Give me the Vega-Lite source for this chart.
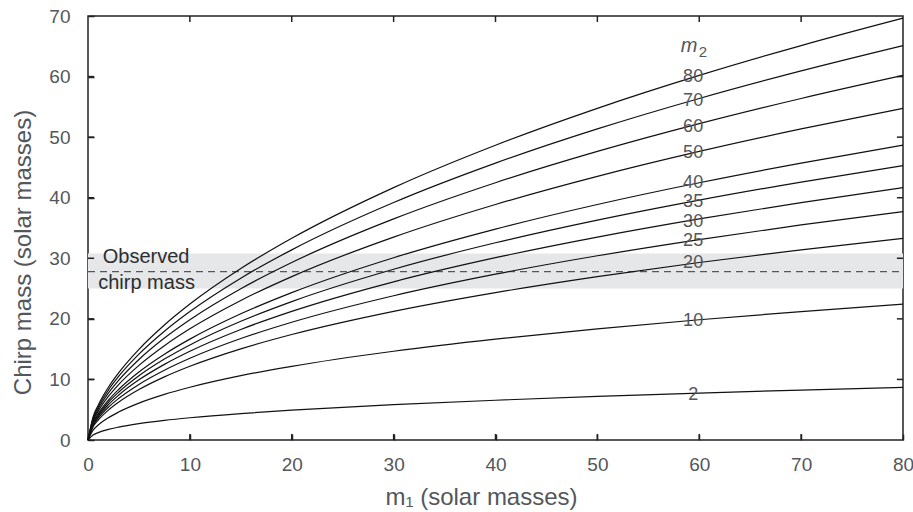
{
  "$schema": "https://vega.github.io/schema/vega-lite/v6.json",
  "width": 815,
  "height": 424,
  "autosize": {"type": "none"},
  "padding": {"left": 88, "top": 16, "right": 10, "bottom": 72},
  "config": {
    "view": {"stroke": "#222", "strokeWidth": 1.5},
    "font": "Liberation Sans",
    "axis": {"domain": false, "grid": false, "ticks": true, "tickSize": 6, "tickColor": "#222222", "tickWidth": 1.5, "labelFlush": false, "labelColor": "#53575c", "titleColor": "#53575c", "labelFont": "Liberation Sans", "titleFont": "Liberation Sans", "labelFontSize": 19, "titleFontSize": 24, "titleFontWeight": "normal"}
  },
  "datasets": {
    "curves": [
      {"m2": 2, "m1": 0, "mc": 0}, {"m2": 2, "m1": 0.5, "mc": 0.8326}, {"m2": 2, "m1": 1, "mc": 1.2167}, {"m2": 2, "m1": 2, "mc": 1.7411}, {"m2": 2, "m1": 3, "mc": 2.1237}, {"m2": 2, "m1": 5, "mc": 2.6976}, {"m2": 2, "m1": 7.5, "mc": 3.2368}, {"m2": 2, "m1": 10, "mc": 3.6710}, {"m2": 2, "m1": 15, "mc": 4.3670}, {"m2": 2, "m1": 20, "mc": 4.9289}, {"m2": 2, "m1": 30, "mc": 5.8326}, {"m2": 2, "m1": 40, "mc": 6.5645}, {"m2": 2, "m1": 50, "mc": 7.1912}, {"m2": 2, "m1": 60, "mc": 7.7452}, {"m2": 2, "m1": 70, "mc": 8.2453}, {"m2": 2, "m1": 80, "mc": 8.7038},
      {"m2": 10, "m1": 0, "mc": 0}, {"m2": 10, "m1": 0.5, "mc": 1.6411}, {"m2": 10, "m1": 1, "mc": 2.4645}, {"m2": 10, "m1": 2, "mc": 3.6710}, {"m2": 10, "m1": 3, "mc": 4.6077}, {"m2": 10, "m1": 5, "mc": 6.0836}, {"m2": 10, "m1": 7.5, "mc": 7.5237}, {"m2": 10, "m1": 10, "mc": 8.7055}, {"m2": 10, "m1": 15, "mc": 10.619}, {"m2": 10, "m1": 20, "mc": 12.167}, {"m2": 10, "m1": 30, "mc": 14.651}, {"m2": 10, "m1": 40, "mc": 16.651}, {"m2": 10, "m1": 50, "mc": 18.355}, {"m2": 10, "m1": 60, "mc": 19.855}, {"m2": 10, "m1": 70, "mc": 21.205}, {"m2": 10, "m1": 80, "mc": 22.439},
      {"m2": 20, "m1": 0, "mc": 0}, {"m2": 20, "m1": 0.5, "mc": 2.1760}, {"m2": 20, "m1": 1, "mc": 3.2823}, {"m2": 20, "m1": 2, "mc": 4.9289}, {"m2": 20, "m1": 3, "mc": 6.2308}, {"m2": 20, "m1": 5, "mc": 8.3256}, {"m2": 20, "m1": 7.5, "mc": 10.418}, {"m2": 20, "m1": 10, "mc": 12.167}, {"m2": 20, "m1": 15, "mc": 15.047}, {"m2": 20, "m1": 20, "mc": 17.411}, {"m2": 20, "m1": 30, "mc": 21.237}, {"m2": 20, "m1": 40, "mc": 24.334}, {"m2": 20, "m1": 50, "mc": 26.976}, {"m2": 20, "m1": 60, "mc": 29.302}, {"m2": 20, "m1": 70, "mc": 31.393}, {"m2": 20, "m1": 80, "mc": 33.302},
      {"m2": 25, "m1": 0, "mc": 0}, {"m2": 25, "m1": 0.5, "mc": 2.3814}, {"m2": 25, "m1": 1, "mc": 3.5956}, {"m2": 25, "m1": 2, "mc": 5.4089}, {"m2": 25, "m1": 3, "mc": 6.8487}, {"m2": 25, "m1": 5, "mc": 9.1775}, {"m2": 25, "m1": 7.5, "mc": 11.519}, {"m2": 25, "m1": 10, "mc": 13.488}, {"m2": 25, "m1": 15, "mc": 16.750}, {"m2": 25, "m1": 20, "mc": 19.442}, {"m2": 25, "m1": 30, "mc": 23.821}, {"m2": 25, "m1": 40, "mc": 27.379}, {"m2": 25, "m1": 50, "mc": 30.418}, {"m2": 25, "m1": 60, "mc": 33.096}, {"m2": 25, "m1": 70, "mc": 35.504}, {"m2": 25, "m1": 80, "mc": 37.703},
      {"m2": 30, "m1": 0, "mc": 0}, {"m2": 30, "m1": 0.5, "mc": 2.5633}, {"m2": 30, "m1": 1, "mc": 3.8726}, {"m2": 30, "m1": 2, "mc": 5.8326}, {"m2": 30, "m1": 3, "mc": 7.3934}, {"m2": 30, "m1": 5, "mc": 9.9275}, {"m2": 30, "m1": 7.5, "mc": 12.488}, {"m2": 30, "m1": 10, "mc": 14.651}, {"m2": 30, "m1": 15, "mc": 18.251}, {"m2": 30, "m1": 20, "mc": 21.237}, {"m2": 30, "m1": 30, "mc": 26.117}, {"m2": 30, "m1": 40, "mc": 30.095}, {"m2": 30, "m1": 50, "mc": 33.499}, {"m2": 30, "m1": 60, "mc": 36.502}, {"m2": 30, "m1": 70, "mc": 39.204}, {"m2": 30, "m1": 80, "mc": 41.672},
      {"m2": 35, "m1": 0, "mc": 0}, {"m2": 35, "m1": 0.5, "mc": 2.7276}, {"m2": 35, "m1": 1, "mc": 4.1227}, {"m2": 35, "m1": 2, "mc": 6.2147}, {"m2": 35, "m1": 3, "mc": 7.8842}, {"m2": 35, "m1": 5, "mc": 10.603}, {"m2": 35, "m1": 7.5, "mc": 13.360}, {"m2": 35, "m1": 10, "mc": 15.696}, {"m2": 35, "m1": 15, "mc": 19.602}, {"m2": 35, "m1": 20, "mc": 22.855}, {"m2": 35, "m1": 30, "mc": 28.192}, {"m2": 35, "m1": 40, "mc": 32.559}, {"m2": 35, "m1": 50, "mc": 36.303}, {"m2": 35, "m1": 60, "mc": 39.608}, {"m2": 35, "m1": 70, "mc": 42.586}, {"m2": 35, "m1": 80, "mc": 45.306},
      {"m2": 40, "m1": 0, "mc": 0}, {"m2": 40, "m1": 0.5, "mc": 2.8782}, {"m2": 40, "m1": 1, "mc": 4.3519}, {"m2": 40, "m1": 2, "mc": 6.5645}, {"m2": 40, "m1": 3, "mc": 8.3333}, {"m2": 40, "m1": 5, "mc": 11.220}, {"m2": 40, "m1": 7.5, "mc": 14.156}, {"m2": 40, "m1": 10, "mc": 16.651}, {"m2": 40, "m1": 15, "mc": 20.836}, {"m2": 40, "m1": 20, "mc": 24.334}, {"m2": 40, "m1": 30, "mc": 30.095}, {"m2": 40, "m1": 40, "mc": 34.822}, {"m2": 40, "m1": 50, "mc": 38.884}, {"m2": 40, "m1": 60, "mc": 42.474}, {"m2": 40, "m1": 70, "mc": 45.711}, {"m2": 40, "m1": 80, "mc": 48.669},
      {"m2": 50, "m1": 0, "mc": 0}, {"m2": 50, "m1": 0.5, "mc": 3.1485}, {"m2": 50, "m1": 1, "mc": 4.7629}, {"m2": 50, "m1": 2, "mc": 7.1912}, {"m2": 50, "m1": 3, "mc": 9.1369}, {"m2": 50, "m1": 5, "mc": 12.322}, {"m2": 50, "m1": 7.5, "mc": 15.577}, {"m2": 50, "m1": 10, "mc": 18.355}, {"m2": 50, "m1": 15, "mc": 23.039}, {"m2": 50, "m1": 20, "mc": 26.976}, {"m2": 50, "m1": 30, "mc": 33.499}, {"m2": 50, "m1": 40, "mc": 38.884}, {"m2": 50, "m1": 50, "mc": 43.527}, {"m2": 50, "m1": 60, "mc": 47.643}, {"m2": 50, "m1": 70, "mc": 51.358}, {"m2": 50, "m1": 80, "mc": 54.758},
      {"m2": 60, "m1": 0, "mc": 0}, {"m2": 60, "m1": 0.5, "mc": 3.3878}, {"m2": 60, "m1": 1, "mc": 5.1266}, {"m2": 60, "m1": 2, "mc": 7.7452}, {"m2": 60, "m1": 3, "mc": 9.8468}, {"m2": 60, "m1": 5, "mc": 13.295}, {"m2": 60, "m1": 7.5, "mc": 16.830}, {"m2": 60, "m1": 10, "mc": 19.855}, {"m2": 60, "m1": 15, "mc": 24.977}, {"m2": 60, "m1": 20, "mc": 29.302}, {"m2": 60, "m1": 30, "mc": 36.502}, {"m2": 60, "m1": 40, "mc": 42.474}, {"m2": 60, "m1": 50, "mc": 47.643}, {"m2": 60, "m1": 60, "mc": 52.233}, {"m2": 60, "m1": 70, "mc": 56.385}, {"m2": 60, "m1": 80, "mc": 60.189},
      {"m2": 70, "m1": 0, "mc": 0}, {"m2": 70, "m1": 0.5, "mc": 3.6042}, {"m2": 70, "m1": 1, "mc": 5.4552}, {"m2": 70, "m1": 2, "mc": 8.2453}, {"m2": 70, "m1": 3, "mc": 10.487}, {"m2": 70, "m1": 5, "mc": 14.172}, {"m2": 70, "m1": 7.5, "mc": 17.957}, {"m2": 70, "m1": 10, "mc": 21.205}, {"m2": 70, "m1": 15, "mc": 26.720}, {"m2": 70, "m1": 20, "mc": 31.393}, {"m2": 70, "m1": 30, "mc": 39.204}, {"m2": 70, "m1": 40, "mc": 45.711}, {"m2": 70, "m1": 50, "mc": 51.358}, {"m2": 70, "m1": 60, "mc": 56.385}, {"m2": 70, "m1": 70, "mc": 60.938}, {"m2": 70, "m1": 80, "mc": 65.116},
      {"m2": 80, "m1": 0, "mc": 0}, {"m2": 80, "m1": 0.5, "mc": 3.8026}, {"m2": 80, "m1": 1, "mc": 5.7565}, {"m2": 80, "m1": 2, "mc": 8.7038}, {"m2": 80, "m1": 3, "mc": 11.074}, {"m2": 80, "m1": 5, "mc": 14.974}, {"m2": 80, "m1": 7.5, "mc": 18.989}, {"m2": 80, "m1": 10, "mc": 22.439}, {"m2": 80, "m1": 15, "mc": 28.312}, {"m2": 80, "m1": 20, "mc": 33.302}, {"m2": 80, "m1": 30, "mc": 41.672}, {"m2": 80, "m1": 40, "mc": 48.669}, {"m2": 80, "m1": 50, "mc": 54.758}, {"m2": 80, "m1": 60, "mc": 60.189}, {"m2": 80, "m1": 70, "mc": 65.116}, {"m2": 80, "m1": 80, "mc": 69.644}
    ],
    "curveLabels": [
      {"label": "80", "x": 59.4, "y": 60.0}, {"label": "70", "x": 59.4, "y": 56.0}, {"label": "60", "x": 59.4, "y": 51.7},
      {"label": "50", "x": 59.4, "y": 47.3}, {"label": "40", "x": 59.4, "y": 42.5}, {"label": "35", "x": 59.4, "y": 39.35},
      {"label": "30", "x": 59.4, "y": 36.0}, {"label": "25", "x": 59.4, "y": 32.9}, {"label": "20", "x": 59.4, "y": 29.3},
      {"label": "10", "x": 59.4, "y": 19.7}, {"label": "2", "x": 59.4, "y": 7.4}
    ],
    "band": [{"lo": 25.0, "hi": 30.8, "obs": 27.8, "x0": 0, "x1": 80}],
    "notes": [{"label": "Observed", "x": 1.45, "y": 30.2}, {"label": "chirp mass", "x": 1.0, "y": 25.9}],
    "xticks": [{"v": 10}, {"v": 20}, {"v": 30}, {"v": 40}, {"v": 50}, {"v": 60}, {"v": 70}],
    "yticks": [{"v": 10}, {"v": 20}, {"v": 30}, {"v": 40}, {"v": 50}, {"v": 60}]
  },
  "layer": [
    {
      "data": {"name": "band"},
      "mark": {"type": "rect", "color": "#e6e7e8"},
      "encoding": {
        "x": {"field": "x0", "type": "quantitative", "scale": {"domain": [0, 80], "nice": false}, "axis": null},
        "x2": {"field": "x1"},
        "y": {"field": "lo", "type": "quantitative", "scale": {"domain": [0, 70], "nice": false}, "axis": null},
        "y2": {"field": "hi"}
      }
    },
    {
      "data": {"name": "band"},
      "mark": {"type": "rule", "color": "#55595e", "strokeWidth": 1.3, "strokeDash": [7, 5]},
      "encoding": {
        "x": {"field": "x0", "type": "quantitative", "axis": null},
        "x2": {"field": "x1"},
        "y": {"field": "obs", "type": "quantitative", "axis": null}
      }
    },
    {
      "data": {"name": "xticks"},
      "mark": {"type": "rule", "color": "#222", "strokeWidth": 1.5},
      "encoding": {
        "x": {"field": "v", "type": "quantitative", "axis": null},
        "y": {"datum": 0, "type": "quantitative", "axis": null},
        "y2": {"datum": 1}
      }
    },
    {
      "data": {"name": "xticks"},
      "mark": {"type": "rule", "color": "#222", "strokeWidth": 1.5},
      "encoding": {
        "x": {"field": "v", "type": "quantitative", "axis": null},
        "y": {"datum": 70, "type": "quantitative", "axis": null},
        "y2": {"datum": 69}
      }
    },
    {
      "data": {"name": "yticks"},
      "mark": {"type": "rule", "color": "#222", "strokeWidth": 1.5},
      "encoding": {
        "y": {"field": "v", "type": "quantitative", "axis": null},
        "x": {"datum": 0, "type": "quantitative", "axis": null},
        "x2": {"datum": 0.6}
      }
    },
    {
      "data": {"name": "yticks"},
      "mark": {"type": "rule", "color": "#222", "strokeWidth": 1.5},
      "encoding": {
        "y": {"field": "v", "type": "quantitative", "axis": null},
        "x": {"datum": 80, "type": "quantitative", "axis": null},
        "x2": {"datum": 79.4}
      }
    },
    {
      "data": {"name": "curves"},
      "mark": {"type": "line", "color": "#111", "strokeWidth": 1.2, "interpolate": "monotone"},
      "encoding": {
        "x": {"field": "m1", "type": "quantitative", "axis": {"orient": "bottom", "values": [0, 10, 20, 30, 40, 50, 60, 70, 80], "offset": -6, "labelPadding": 15, "title": "m₁ (solar masses)", "titleX": 393, "titleY": 63, "titleBaseline": "middle"}},
        "y": {"field": "mc", "type": "quantitative", "axis": {"orient": "left", "values": [0, 10, 20, 30, 40, 50, 60, 70], "offset": -6, "labelPadding": 18, "title": "Chirp mass (solar masses)", "titleX": -71, "titleY": 236, "titleBaseline": "middle"}},
        "detail": {"field": "m2", "type": "nominal"},
        "order": {"field": "m1", "type": "quantitative"}
      }
    },
    {
      "data": {"name": "curveLabels"},
      "mark": {"type": "text", "color": "#53575c", "fontSize": 18, "align": "center", "baseline": "middle"},
      "encoding": {
        "x": {"field": "x", "type": "quantitative", "axis": null},
        "y": {"field": "y", "type": "quantitative", "axis": null},
        "text": {"field": "label"}
      }
    },
    {
      "data": {"values": [{"t": "m", "x": 59.0, "y": 65.0}]},
      "mark": {"type": "text", "color": "#53575c", "fontSize": 20, "fontStyle": "italic", "align": "center", "baseline": "middle"},
      "encoding": {
        "x": {"field": "x", "type": "quantitative", "axis": null},
        "y": {"field": "y", "type": "quantitative", "axis": null},
        "text": {"field": "t"}
      }
    },
    {
      "data": {"values": [{"t": "2", "x": 60.35, "y": 64.0}]},
      "mark": {"type": "text", "color": "#53575c", "fontSize": 15, "align": "center", "baseline": "middle"},
      "encoding": {
        "x": {"field": "x", "type": "quantitative", "axis": null},
        "y": {"field": "y", "type": "quantitative", "axis": null},
        "text": {"field": "t"}
      }
    },
    {
      "data": {"name": "notes"},
      "mark": {"type": "text", "color": "#2b2e31", "fontSize": 20, "align": "left", "baseline": "middle"},
      "encoding": {
        "x": {"field": "x", "type": "quantitative", "axis": null},
        "y": {"field": "y", "type": "quantitative", "axis": null},
        "text": {"field": "label"}
      }
    }
  ],
  "resolve": {"axis": {"x": "independent", "y": "independent"}}
}
